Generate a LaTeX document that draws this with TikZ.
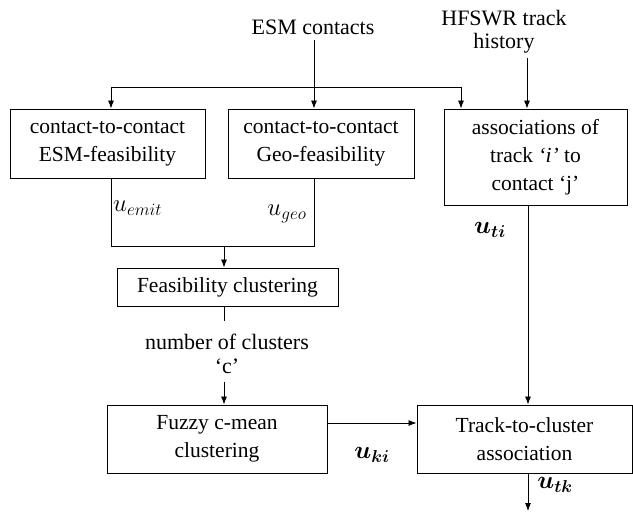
\documentclass[tikz,border=0pt]{standalone}
\usepackage{amsmath}
\usepackage{fontspec}
\setmainfont{LiberationSerif}[Extension=.ttf, UprightFont=*-Regular, ItalicFont=*-Italic, BoldFont=*-Bold, BoldItalicFont=*-BoldItalic]
\usetikzlibrary{arrows.meta}
\tikzset{blk/.style={draw, line width=0.9pt, align=center, inner sep=0pt, font=\fontsize{21.5}{28}\selectfont}}
\tikzset{lbl/.style={align=center, inner sep=0pt, font=\fontsize{22}{23}\selectfont}}
\tikzset{ulbl/.style={inner sep=0pt, font=\fontsize{24}{26}\selectfont}}
\tikzset{flow/.style={-{Latex[length=8pt,width=6pt]}, line width=0.8pt}}

\begin{document}
\begin{tikzpicture}[x=1pt,y=-1pt]
\useasboundingbox (0,0) rectangle (633,512);

% inputs
\node[lbl] (esm) at (313,27) {ESM contacts};
\node[lbl] (hfswr) at (504,32) {HFSWR track\\history};

% first row
\node[blk, minimum width=195, minimum height=69] (esmfeas) at (107.5,143.5) {contact-to-contact\\ESM-feasibility};
\node[blk, minimum width=186, minimum height=69] (geofeas) at (321,143.5) {contact-to-contact\\Geo-feasibility};
\node[blk, minimum width=183, minimum height=96] (assoc) at (535.5,157) {associations of\\track \textit{`i'} to\\contact `j'};

\coordinate (busL) at (111,87);
\coordinate (busM) at (314,87);
\coordinate (busR) at (461,87);
\coordinate (hfx) at (527,58);

\draw[flow] ([yshift=-5pt]esm.south -| busM) -- (busM |- geofeas.north);
\draw[line width=0.9pt] (busL) -- (busR);
\draw[flow] (busL) -- (busL |- esmfeas.north);
\draw[flow] (busR) -- (busR |- assoc.north);
\draw[flow] (hfx) -- (hfx |- assoc.north);

% merge
\coordinate (mL) at (111,246);
\coordinate (mR) at (314,246);
\coordinate (mM) at (224,246);
\draw[line width=0.8pt] (esmfeas.south -| mL) -- (mL) -- (mR) -- (geofeas.south -| mR);

\node[ulbl, anchor=west] (uemit) at (113,208) {$u_{emit}$};
\node[ulbl] (ugeo) at (287,214) {$u_{geo}$};

\node[blk, minimum width=221, minimum height=38] (feas) at (227.5,287) {Feasibility clustering};
\draw[flow] (mM) -- (mM |- feas.north);
\draw[line width=0.8pt] (feas.south -| mM) -- ++(0,15);

\node[lbl, font=\fontsize{22}{24}\selectfont] (nclus) at (227,354) {number of clusters\\`c'};

\node[blk, minimum width=220, minimum height=68] (fuzzy) at (217,439) {Fuzzy c-mean\\clustering};
\node[blk, minimum width=215, minimum height=68] (track) at (524.5,439) {Track-to-cluster\\association};

\draw[flow] ([yshift=-8pt]nclus.south -| mM) -- (mM |- fuzzy.north);
\draw[flow] ([yshift=16pt]fuzzy.east) -- ([yshift=16pt]fuzzy.east -| track.west);

\coordinate (tx) at (528,0);
\coordinate (tout) at (528,511);
\draw[flow] (assoc.south -| tx) -- (tx |- track.north);
\draw[flow] (track.south -| tx) -- (tout);

\node[ulbl] (uti) at (490,230) {$\boldsymbol{u}_{\boldsymbol{ti}}$};
\node[ulbl] (uki) at (372,455) {$\boldsymbol{u}_{\boldsymbol{ki}}$};
\node[ulbl] (utk) at (555,485) {$\boldsymbol{u}_{\boldsymbol{tk}}$};

\end{tikzpicture}
\end{document}
